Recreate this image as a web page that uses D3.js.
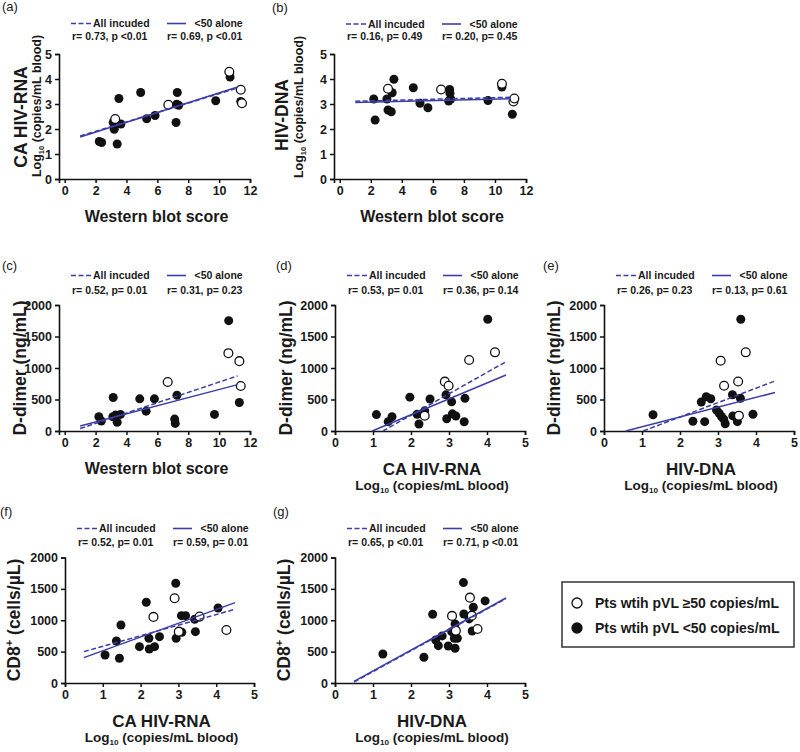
<!DOCTYPE html>
<html><head><meta charset="utf-8">
<script src="https://cdn.jsdelivr.net/npm/d3@7"></script>
<style>
html,body{margin:0;padding:0;background:#fff;}
text{font-family:"Liberation Sans",Arial,Helvetica,sans-serif;fill:#1a1a1a;}
</style></head>
<body><svg id="chart" width="800" height="752"></svg>
<script>
// ---------- DATA ----------
const ticksWB = [0,2,4,6,8,10,12];
const ticks05 = [0,1,2,3,4,5];
const ticks2000 = [0,500,1000,1500,2000];

// (a) Western blot score vs CA HIV-RNA
const aFilled = [[2.24,1.50],[2.39,1.46],[3.14,2.26],[3.21,1.99],[3.40,1.40],[3.51,3.22],[3.64,2.20],[4.92,3.46],[5.31,2.41],[5.85,2.54],[7.21,2.26],[7.25,2.99],[7.29,3.46],[7.38,2.95],[9.78,3.13],[10.71,4.08],[11.40,3.10]];
const aOpen = [[3.27,2.40],[6.71,2.97],[10.66,4.29],[11.40,3.57],[11.48,3.03]];
const aLineAll = [[1,1.72],[11.2,3.64]];
const aLineLt50 = [[1,1.68],[11.2,3.68]];
const aStats = ["r= 0.73, p <0.01","r= 0.69, p <0.01"];

// (b) Western blot score vs HIV-DNA
const bFilled = [[2.19,3.20],[2.28,2.36],[3.04,3.20],[3.11,2.76],[3.32,2.69],[3.38,3.45],[3.49,3.99],[4.74,3.65],[5.17,3.03],[5.68,2.85],[7.02,3.12],[7.08,3.58],[7.10,3.43],[7.15,3.20],[9.55,3.14],[10.45,3.68],[11.12,2.59]];
const bOpen = [[3.11,3.61],[6.53,3.58],[10.45,3.81],[11.19,3.10],[11.25,3.22]];
const bLineAll = [[1,3.11],[11.0,3.27]];
const bLineLt50 = [[1,3.06],[11.0,3.21]];
const bStats = ["r= 0.16, p= 0.49","r= 0.20, p= 0.45"];

// (c) Western blot score vs D-dimer
const cFilled = [[2.21,226],[2.37,158],[3.14,531],[3.12,226],[3.29,252],[3.40,137],[3.61,263],[4.86,510],[5.27,315],[5.81,510],[7.27,568],[7.12,189],[7.16,121],[9.70,263],[10.62,1751],[11.31,452]];
const cOpen = [[6.67,778],[10.60,1235],[11.31,1109],[11.40,715]];
const cLineAll = [[1,39],[11.2,875]];
const cLineLt50 = [[1,78],[11.2,736]];
const cStats = ["r= 0.52, p= 0.01","r= 0.31, p= 0.23"];

// (d) CA HIV-RNA vs D-dimer
const dFilled = [[1.09,260],[1.40,148],[1.50,227],[1.97,537],[2.16,265],[2.21,111],[2.36,320],[2.50,508],[2.92,574],[2.94,195],[3.07,463],[3.09,272],[3.18,238],[3.40,146],[3.42,518],[4.02,1773]];
const dOpen = [[2.36,243],[2.89,783],[2.99,719],[3.53,1127],[4.21,1249]];
const dLineAll = [[1.26,0],[4.5,1100]];
const dLineLt50 = [[0.98,0],[4.5,889]];
const dStats = ["r= 0.53, p= 0.01","r= 0.36, p= 0.14"];

// (e) HIV-DNA vs D-dimer
const eFilled = [[1.29,258],[2.34,155],[2.56,460],[2.65,148],[2.69,545],[2.81,512],[2.96,333],[3.03,281],[3.09,230],[3.15,188],[3.19,115],[3.38,575],[3.39,240],[3.51,148],[3.59,519],[3.60,1773],[3.92,265]];
const eOpen = [[3.07,1116],[3.16,719],[3.53,786],[3.55,243],[3.73,1249]];
const eLineAll = [[1.03,0],[4.5,794]];
const eLineLt50 = [[0.57,0],[4.5,611]];
const eStats = ["r= 0.26, p= 0.23","r= 0.13, p= 0.61"];

// (f) CA HIV-RNA vs CD8+
const fFilled = [[1.06,447],[1.36,670],[1.44,394],[1.48,925],[1.97,579],[2.15,1287],[2.22,713],[2.23,542],[2.37,579],[2.50,738],[2.93,1590],[2.94,713],[3.08,1073],[3.09,808],[3.19,1073],[3.43,1016],[3.45,818],[4.05,1196]];
const fOpen = [[2.34,1053],[2.90,1351],[3.01,818],[3.56,1058],[4.27,845]];
const fLineAll = [[0.5,500],[4.5,1175]];
const fLineLt50 = [[0.5,404],[4.5,1281]];
const fStats = ["r= 0.52, p= 0.01","r= 0.59, p= 0.01"];

// (g) HIV-DNA vs CD8+
const gFilled = [[1.26,462],[2.34,410],[2.57,1095],[2.65,686],[2.72,595],[2.82,750],[2.98,590],[3.07,818],[3.16,941],[3.14,713],[3.22,713],[3.16,553],[3.38,1600],[3.39,1100],[3.53,1021],[3.64,1207],[3.61,829],[3.95,1308]];
const gOpen = [[3.08,1069],[3.18,834],[3.55,1360],[3.60,1073],[3.75,861]];
const gLineAll = [[0.5,15],[4.5,1345]];
const gLineLt50 = [[0.5,25],[4.5,1355]];
const gStats = ["r= 0.65, p <0.01","r= 0.71, p <0.01"];

const legendItems = ["Pts wtih pVL \u226550 copies/mL","Pts wtih pVL <50 copies/mL"];
const headerAll = "All incuded";
const headerLt50 = "<50 alone";

// ---------- LAYOUT ----------
const LINE_COLOR = "#3d3da8";
const svg = d3.select("#chart");

const panels = [
 {lab:"(a)", labX:2, labY:11, filled:aFilled, open:aOpen, all:aLineAll, lt:aLineLt50, stats:aStats,
  xr:[59,250], xd:[-0.37,12], xt:ticksWB, yr:[179,54], yd:[0,5], yt:ticks05, hdrY:[27,39.5],
  yTitle:"CA HIV-RNA", yTitleX:27, yTitleY:117, yLog:true, yLogX:41, yLogY:106,
  xTitle:"Western blot score", xTitleY:222, xLog:false},
 {lab:"(b)", labX:272, labY:12, filled:bFilled, open:bOpen, all:bLineAll, lt:bLineLt50, stats:bStats,
  xr:[334,526], xd:[-0.37,12], xt:ticksWB, yr:[179,54], yd:[0,5], yt:ticks05, hdrY:[27.5,40],
  yTitle:"HIV-DNA", yTitleX:288, yTitleY:115, yLog:true, yLogX:303, yLogY:107,
  xTitle:"Western blot score", xTitleY:222, xLog:false},
 {lab:"(c)", labX:2, labY:270, filled:cFilled, open:cOpen, all:cLineAll, lt:cLineLt50, stats:cStats,
  xr:[59,250], xd:[-0.37,12], xt:ticksWB, yr:[431,305], yd:[0,2000], yt:ticks2000, hdrY:[279,293.5],
  yTitle:"D-dimer (ng/mL)", yTitleX:26, yTitleY:368, yLog:false,
  xTitle:"Western blot score", xTitleY:474, xLog:false},
 {lab:"(d)", labX:276, labY:270, filled:dFilled, open:dOpen, all:dLineAll, lt:dLineLt50, stats:dStats,
  xr:[335,525], xd:[0,5], xt:ticks05, yr:[431,305], yd:[0,2000], yt:ticks2000, hdrY:[279,293.5],
  yTitle:"D-dimer (ng/mL)", yTitleX:292, yTitleY:368, yLog:false,
  xTitle:"CA HIV-RNA", xTitleY:475, xLog:true, xLogY:490},
 {lab:"(e)", labX:543, labY:270, filled:eFilled, open:eOpen, all:eLineAll, lt:eLineLt50, stats:eStats,
  xr:[604,794], xd:[0,5], xt:ticks05, yr:[431,305], yd:[0,2000], yt:ticks2000, hdrY:[279,293.5],
  yTitle:"D-dimer (ng/mL)", yTitleX:560, yTitleY:368, yLog:false,
  xTitle:"HIV-DNA", xTitleY:475, xLog:true, xLogY:490},
 {lab:"(f)", labX:0, labY:516, filled:fFilled, open:fOpen, all:fLineAll, lt:fLineLt50, stats:fStats,
  xr:[65,254], xd:[0,5], xt:ticks05, yr:[683,557.5], yd:[0,2000], yt:ticks2000, hdrY:[532,545.5],
  yTitle:"CD8", yTitleX:20, yTitleY:620, yLog:false, cd8:true,
  xTitle:"CA HIV-RNA", xTitleY:727, xLog:true, xLogY:742},
 {lab:"(g)", labX:273, labY:516, filled:gFilled, open:gOpen, all:gLineAll, lt:gLineLt50, stats:gStats,
  xr:[335,525], xd:[0,5], xt:ticks05, yr:[683,557.5], yd:[0,2000], yt:ticks2000, hdrY:[532,545.5],
  yTitle:"CD8", yTitleX:290, yTitleY:620, yLog:false, cd8:true,
  xTitle:"HIV-DNA", xTitleY:727, xLog:true, xLogY:742}
];

function addLog(sel, size){
  sel.append("tspan").text("Log");
  sel.append("tspan").attr("font-size", size*0.6).attr("dy", size*0.25).text("10");
  sel.append("tspan").attr("dy", -size*0.25).text(" (copies/mL blood)");
}

panels.forEach(p => {
  const g = svg.append("g");
  const x = d3.scaleLinear().domain(p.xd).range(p.xr);
  const y = d3.scaleLinear().domain(p.yd).range(p.yr);
  const ax0 = p.xr[0];
  const ay0 = p.yr[0];

  // axes
  const fmt = d3.format("d");
  const xAxis = d3.axisBottom(x).tickValues(p.xt).tickFormat(fmt).tickSizeOuter(0).tickSize(4).tickPadding(3);
  const yAxis = d3.axisLeft(y).tickValues(p.yt).tickFormat(fmt).tickSizeOuter(0).tickSize(4).tickPadding(3);
  const gx = g.append("g").attr("transform",`translate(0,${ay0})`).call(xAxis);
  const gy = g.append("g").attr("transform",`translate(${ax0},0)`).call(yAxis);
  [gx,gy].forEach(a=>{
    a.select(".domain").attr("stroke","#111").attr("stroke-width",1.6);
    a.selectAll(".tick line").attr("stroke","#111").attr("stroke-width",1.5);
    a.selectAll(".tick text").attr("font-size",12.5).attr("font-weight","bold")
      .attr("font-family",'"Liberation Sans",Arial,sans-serif').attr("fill","#1a1a1a");
  });

  // points
  g.selectAll(".pf").data(p.filled).enter().append("circle")
    .attr("cx",d=>x(d[0])).attr("cy",d=>y(d[1])).attr("r",4.5).attr("fill","#111");
  g.selectAll(".po").data(p.open).enter().append("circle")
    .attr("cx",d=>x(d[0])).attr("cy",d=>y(d[1])).attr("r",4.4)
    .attr("fill","#fff").attr("stroke","#111").attr("stroke-width",1.3);

  // regression lines
  const line = d3.line().x(d=>x(d[0])).y(d=>y(d[1]));
  g.append("path").datum(p.lt).attr("d",line).attr("stroke",LINE_COLOR).attr("stroke-width",1.5).attr("fill","none");
  g.append("path").datum(p.all).attr("d",line).attr("stroke",LINE_COLOR).attr("stroke-width",1.5)
    .attr("stroke-dasharray","5,2.5").attr("fill","none");

  // header legend
  const h1 = p.hdrY[0], h2 = p.hdrY[1];
  g.append("line").attr("x1",ax0+12).attr("x2",ax0+33).attr("y1",h1-3.5).attr("y2",h1-3.5)
    .attr("stroke",LINE_COLOR).attr("stroke-width",1.6).attr("stroke-dasharray","5,2.5");
  g.append("text").attr("x",ax0+34).attr("y",h1).attr("font-size",10.5).attr("font-weight","bold").text(headerAll);
  g.append("line").attr("x1",ax0+108).attr("x2",ax0+127).attr("y1",h1-3.5).attr("y2",h1-3.5)
    .attr("stroke",LINE_COLOR).attr("stroke-width",1.6);
  g.append("text").attr("x",ax0+135.5).attr("y",h1).attr("font-size",10.5).attr("font-weight","bold").text(headerLt50);
  g.append("text").attr("x",ax0+13).attr("y",h2).attr("font-size",10.5).attr("font-weight","bold").text(p.stats[0]);
  g.append("text").attr("x",ax0+108).attr("y",h2).attr("font-size",10.5).attr("font-weight","bold").text(p.stats[1]);

  // panel label
  g.append("text").attr("x",p.labX).attr("y",p.labY).attr("font-size",13).text(p.lab);

  // y title
  const yt = g.append("text").attr("transform",`translate(${p.yTitleX},${p.yTitleY}) rotate(-90)`)
    .attr("text-anchor","middle").attr("font-weight","bold").attr("font-size",17.5);
  if (p.cd8){
    yt.append("tspan").text("CD8");
    yt.append("tspan").attr("font-size",11).attr("dy",-7).text("+");
    yt.append("tspan").attr("dy",7).text(" (cells/\u00b5L)");
  } else {
    yt.text(p.yTitle);
  }
  if (p.yLog){
    const yl = g.append("text").attr("transform",`translate(${p.yLogX},${p.yLogY}) rotate(-90)`)
      .attr("text-anchor","middle").attr("font-weight","bold").attr("font-size",12.5);
    addLog(yl,12.5);
  }

  // x title
  const cx = (p.xr[0]+p.xr[1])/2 + 2;
  g.append("text").attr("x",cx).attr("y",p.xTitleY).attr("text-anchor","middle")
    .attr("font-weight","bold").attr("font-size",p.xLog?17:16).text(p.xTitle);
  if (p.xLog){
    const xl = g.append("text").attr("x",cx).attr("y",p.xLogY).attr("text-anchor","middle")
      .attr("font-weight","bold").attr("font-size",13.5);
    addLog(xl,13.5);
  }
});

// bottom-right legend
const lg = svg.append("g");
lg.append("rect").attr("x",562).attr("y",582).attr("width",232).attr("height",65)
  .attr("fill","#fff").attr("stroke","#333").attr("stroke-width",1.5);
const legY = d3.scalePoint().domain(legendItems).range([603,628]);
lg.selectAll(".lc").data(legendItems).enter().append("circle")
  .attr("cx",577).attr("cy",d=>legY(d)).attr("r",5)
  .attr("fill",(d,i)=>i===0?"#fff":"#111").attr("stroke","#111").attr("stroke-width",1.3);
lg.selectAll(".lt").data(legendItems).enter().append("text")
  .attr("x",595).attr("y",d=>legY(d)+5).attr("font-size",14).attr("font-weight","bold").text(d=>d);
</script></body></html>
